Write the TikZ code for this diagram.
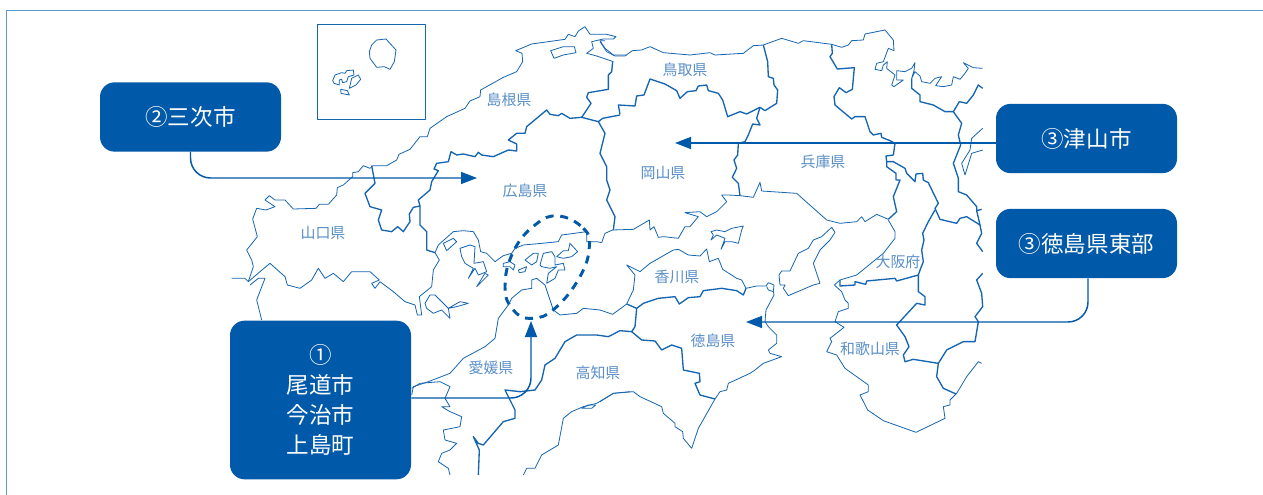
\documentclass[tikz,border=0pt]{standalone}
\usepackage{fontspec}
\setmainfont{Noto Sans CJK JP}
\usetikzlibrary{arrows.meta}
\definecolor{mainblue}{HTML}{0059A9}
\definecolor{mapblue}{HTML}{1565B0}
\definecolor{labelblue}{HTML}{5A8FC8}
\definecolor{framblue}{HTML}{5F9BD0}
\tikzset{
  coast/.style={draw=mapblue,line width=0.6pt,line join=round},
  border/.style={draw=mapblue,line width=1pt,line join=round},
  callout/.style={fill=mainblue,text=white,rounded corners=11pt,minimum width=135.75pt,inner sep=0pt,align=center,font=\fontsize{16.9}{22.5}\selectfont},
  preflabel/.style={text=labelblue,inner sep=0pt,font=\fontsize{11.2}{13}\selectfont},
  leader/.style={draw=mainblue,line width=1.1pt,rounded corners=15pt,-{Triangle[length=12pt,width=9pt]}},
  zA/.style={shift={(230,20)},xscale=1/3,yscale=1/3},
  zB/.style={shift={(600,20)},xscale=1/3,yscale=1/3},
  zC/.style={shift={(230,210)},xscale=1/3,yscale=1/3},
  zD/.style={shift={(600,200)},xscale=1/3,yscale=1/3},
}
\begin{document}
\begin{tikzpicture}[x=0.75pt,y=-0.75pt]
\useasboundingbox (0,0) rectangle (1263,495);
\fill[white] (0,0) rectangle (1263,495);
\draw[framblue,line width=1.1pt] (6.5,495) -- (6.5,10.5) -- (1263,10.5);

% --- map, upper left
\begin{scope}[zA]
\draw[coast] (263,14) rectangle (586,298);
\draw[coast] (418,95)--(425,75)--(440,60)--(468,57)--(498,90)--(493,125)--(480,148)--(463,140)--(440,142)--(420,115)--cycle;
\draw[coast] (308,182)--(315,165)--(335,158)--(345,160)--(350,152)--(370,150)--(372,165)--(355,170)--(350,185)--(338,188)--(335,178)--(328,180)--(328,195)--(312,190)--cycle;
\draw[coast] (358,205)--(365,175)--(385,165)--(392,178)--(378,195)--cycle;
\draw[coast] (332,208)--(352,212)--(358,225)--(333,220)--cycle;
\draw[coast] (962,92)--(1000,80)--(1033,80)--(1038,98)--(1000,105)--(972,115)--cycle;
% north coast Yamaguchi - Shimane
\draw[coast] (65,720)--(50,690)--(82,650)--(68,597)--(80,565)--(108,570)--(135,560)--(105,540)--(118,527)--(135,540)--(165,540)--(190,567)--(258,565)--(268,553)--(295,553)--(320,525)--(322,503)--(340,495)--(368,470)--(368,458)--(385,455)--(400,437)--(420,445)--(428,437)--(470,437)--(500,420)--(507,403)--(540,388)--(570,350)--(592,350)--(600,325)--(650,290)--(705,265)--(720,243)--(750,230)--(752,210)--(820,172)--(860,155)--(878,125)--(876,100)--(857,92)--(905,72)--(1005,58)--(1015,43)--(1035,50)--(1045,33)--(1065,20)--(1080,43)--(1130,43)--(1158,50)--(1150,57)--(1120,57)--(1085,65)--(1090,85)--(1070,100)--(1100,108)--(1150,125);
\draw[coast] (1125,62)--(1110,62)--(1125,85)--(1150,105)--(1190,105);
% Shimane-Tottori
\draw[border] (1148,125)--(1145,155)--(1135,165)--(1135,208)--(1075,218)--(1070,232)--(1083,250)--(1055,292);
% Shimane-Hiroshima
\draw[border] (1105,305)--(1055,292)--(1020,295)--(995,280)--(985,287)--(960,283)--(950,270)--(890,320)--(885,340)--(860,340)--(835,360)--(860,372)--(860,393)--(835,390)--(790,410)--(755,405)--(745,397)--(735,410)--(700,402)--(680,405)--(663,395)--(655,425)--(620,430)--(612,447)--(625,452)--(605,485)--(600,510)--(565,540)--(570,558)--(550,562)--(538,582)--(540,605)--(520,635)--(503,620)--(485,635)--(455,630)--(445,600)--(455,570)--(420,560)--(405,520)--(435,490)--(425,437);
% Hiroshima-Okayama
\draw[border] (1105,305)--(1125,340)--(1110,400)--(1130,440)--(1130,480)--(1140,510)--(1130,540)--(1155,590)--(1150,630);
\draw[border] (1105,305)--(1118,295)--(1170,285);
\end{scope}

% --- map, upper right
\begin{scope}[zB]
\draw[coast] (0,65)--(20,95)--(45,108)--(75,108)--(97,92)--(125,90)--(150,80)--(190,98)--(270,105)--(330,98)--(345,105)--(430,100)--(460,77)--(490,75)--(545,55)--(595,70)--(610,62)--(695,73)--(725,82)--(745,75)--(755,62)--(790,60)--(795,42)--(855,30)--(880,60)--(882,92)--(865,85)--(850,125)--(830,130)--(825,148)--(845,152)--(850,135)--(862,125)--(860,145)--(885,165)--(875,195)--(882,200)--(910,180)--(890,180)--(890,152)--(915,155)--(935,145)--(945,128)--(942,152)--(935,175)--(945,155)--(960,168)--(965,185)--(990,190)--(1005,175)--(1025,170)--(1007,197)--(1030,200)--(1055,195)--(1060,170)--(1080,178)--(1095,160)--(1105,145)--(1090,128)--(1120,143)--(1148,145);
% Tottori-Hyogo
\draw[border] (490,75)--(503,125)--(505,170)--(520,175)--(522,195)--(533,210)--(530,250)--(495,272)--(480,262);
% Hyogo-Okayama
\draw[border] (480,262)--(470,295)--(480,315)--(458,312)--(445,345)--(435,365)--(415,370)--(413,405)--(402,420)--(410,445)--(397,472)--(415,490)--(420,527);
% Okayama-Tottori
\draw[border] (60,283)--(55,255)--(105,258)--(110,228)--(132,225)--(150,177)--(195,192)--(230,212)--(240,235)--(262,215)--(288,212)--(295,198)--(320,195)--(325,212)--(355,220)--(368,240)--(383,290)--(420,275)--(440,282)--(480,262);
% Hyogo east
\draw[border] (695,73)--(697,100)--(690,110)--(712,147)--(763,143)--(757,208)--(738,218)--(718,203)--(702,230)--(705,255)--(755,297)--(765,290)--(795,290)--(810,335)--(820,345)--(843,340)--(845,352)--(870,362)--(885,370)--(880,405)--(858,408)--(860,425)--(880,425)--(915,445)--(920,460)--(945,485)--(948,462)--(968,460)--(970,480)--(985,488)--(1015,550)--(1005,565)--(1020,598)--(1070,610)--(1080,595)--(1100,590)--(1140,615);
\draw[border] (1060,275)--(1085,310)--(1075,345)--(1082,375)--(1060,430)--(1075,475)--(1075,515)--(1100,525)--(1130,560)--(1130,572)--(1145,568);
\draw[border] (1130,572)--(1140,615);
\draw[border] (935,175)--(935,205)--(960,225)--(960,245)--(1000,255)--(1035,275)--(1060,275)--(1078,245)--(1100,250)--(1120,225)--(1135,195)--(1148,205);
\draw[coast] (1148,325)--(1115,355)--(1110,390)--(1085,430)--(1095,465)--(1115,400)--(1148,390);
% Seto coast Okayama - Hyogo - Osaka
\draw[coast] (5,668)--(15,640)--(38,630)--(100,628)--(148,600)--(150,630)--(162,620)--(175,652)--(190,650)--(235,655)--(255,620)--(270,620)--(295,590)--(255,578)--(300,575)--(320,590)--(350,575)--(380,545)--(365,525)--(385,525)--(420,527)--(460,532)--(480,487)--(485,513)--(590,520)--(680,600)--(720,610)--(770,605)--(785,590)--(795,605)--(830,583)--(865,598);
\draw[border] (865,598)--(890,575)--(880,530)--(900,480)--(888,480)--(888,460)--(860,440)--(860,425);
\end{scope}

% --- map, lower left
\begin{scope}[zC]
% Yamaguchi west
\draw[coast] (65,150)--(70,170)--(55,215)--(45,205)--(5,205);
\draw[coast] (55,215)--(90,185)--(120,160)--(165,200)--(172,225)--(210,235)--(245,210)--(265,175)--(285,205)--(310,190)--(340,215)--(365,185)--(420,185)--(448,210)--(425,220)--(435,235)--(450,215)--(490,245)--(525,275)--(555,285)--(562,315)--(575,315)--(568,260)--(605,230)--(610,180)--(628,150)--(615,128);
\draw[coast] (60,225)--(85,205)--(105,205)--(80,270)--(95,330);
\draw[coast] (600,255)--(585,280)--(590,295)--(610,310)--(635,300)--(660,325)--(655,295)--(680,290)--(715,280)--(690,275)--(655,295)--(615,255)--cycle;
% Hiroshima-Yamaguchi
\draw[border] (570,-12)--(570,45)--(590,65)--(590,120)--(615,128);
% Hiroshima coast
\draw[coast] (615,128)--(625,105)--(670,65)--(700,62)--(730,65)--(745,90)--(752,125)--(770,130)--(795,155)--(820,137)--(845,130)--(855,115)--(880,105)--(935,100)--(985,95)--(995,75)--(1070,65)--(1070,95)--(1100,95)--(1115,98);
\draw[coast] (640,100)--(670,85)--(680,95)--(650,122)--cycle;
\draw[coast] (690,115)--(720,105)--(735,110)--(732,160)--(760,155)--(770,185)--(745,195)--(735,175)--(715,205)--(730,175)--(705,160)--(695,140)--cycle;
\draw[coast] (740,230)--(765,190)--(775,195)--cycle;
\draw[coast] (820,160)--(840,155)--(855,165)--(850,180)--(840,170)--(820,170)--cycle;
\draw[coast] (865,180)--(890,170)--(885,185)--(868,188)--cycle;
\draw[coast] (885,150)--(910,130)--(925,130)--(920,155)--(905,165)--cycle;
\draw[coast] (930,165)--(940,130)--(965,125)--(975,140)--(975,165)--(1000,160)--(1005,180)--(985,180)--(975,205)--(950,220)--(955,190)--(980,170)--(960,175)--(935,170)--cycle;
\draw[coast] (980,140)--(1000,122)--(1015,122)--(1020,100)--(1043,125)--(1025,140)--(1000,145)--cycle;
% Ehime north coast, Kagawa-Ehime
\draw[coast] (1110,300)--(1060,295)--(1040,310)--(990,315)--(970,300)--(945,225)--(920,205)--(905,210)--(905,235)--(875,240)--(845,265)--(835,285)--(805,325)--(795,385)--(765,410)--(700,445)--(660,490)--(595,515)--(550,530)--(545,555);
\draw[coast] (545,535)--(570,520)--(630,515)--(660,530)--(645,565)--(660,590)--(635,590)--(660,605)--(695,620)--(690,650)--(640,660)--(645,690)--(680,700)--(660,720)--(635,730)--(625,755)--(655,775)--(660,795);
% Ehime-Kochi
\draw[border] (1205,365)--(1170,362)--(1135,380)--(1100,375)--(1040,375)--(1005,395)--(975,445)--(945,465)--(935,510)--(915,540)--(870,545)--(825,540)--(855,600)--(855,625)--(820,635)--(790,670)--(760,705)--(745,700)--(730,680)--(748,720)--(745,795);
% Kochi coast
\draw[coast] (880,795)--(890,775)--(915,775)--(935,735)--(985,705)--(1000,625)--(1025,605)--(1060,590)--(1100,580)--(1150,550)--(1200,545);
\draw[coast] (1055,595)--(1075,585)--(1097,585)--(1085,595)--cycle;
% dashed ring
\draw[mainblue,line width=2.2pt,dash pattern=on 6pt off 5pt,rounded corners=0pt]
  plot[smooth cycle,tension=0.75] coordinates {(985,18)(1060,55)(1078,110)(1050,200)(975,295)(905,325)(850,300)(825,230)(850,125)(915,45)};
\end{scope}

% --- map, lower right
\begin{scope}[zD]
\draw[coast] (695,82)--(705,97)--(690,120)--(660,150)--(640,190)--(660,250)--(640,255)--(565,287)--(550,265)--(555,255)--(540,255)--(537,225)--(545,213)--(570,213)--(595,160)--(625,145)--(640,120)--(665,110)--cycle;
\draw[coast] (333,95)--(350,90)--(375,95)--(395,85)--(430,78)--(425,90)--(415,130)--(395,125)--(375,125)--(363,148)--(375,115)--(350,105)--(333,120)--(340,105)--cycle;
% Kagawa
\draw[coast] (80,312)--(100,270)--(105,225)--(80,195)--(120,215)--(150,190)--(220,150)--(235,148)--(265,165)--(300,168)--(320,147)--(328,185)--(355,175)--(368,208)--(410,235)--(425,240)--(438,265)--(470,258)--(498,258)--(505,248)--(522,255)--(520,275)--(505,270)--(500,260);
\draw[coast] (80,312)--(38,343)--(0,330);
\draw[border] (80,312)--(110,325)--(130,310)--(175,295)--(225,290)--(238,312)--(265,293)--(300,290)--(310,272)--(365,265)--(410,272)--(430,285)--(438,265);
% Tokushima
\draw[coast] (520,275)--(522,285)--(498,330)--(495,365)--(505,380)--(530,405)--(530,430)--(505,450)--(510,460)--(545,470)--(490,490)--(465,510)--(450,520)--(385,550)--(380,570)--(360,575)--(345,597);
\draw[border] (110,325)--(105,380)--(95,395)--(125,420)--(165,423)--(185,450)--(215,435)--(245,445)--(250,510)--(298,520)--(300,545)--(285,550)--(300,585)--(345,597);
% Kochi coast east
\draw[coast] (0,605)--(40,580)--(100,575)--(120,590)--(185,620)--(190,640)--(225,670)--(225,680)--(248,695)--(250,715)--(275,745)--(295,685)--(345,597);
% Osaka bay - Wakayama
\draw[coast] (865,60)--(885,95)--(885,115)--(850,160)--(770,225)--(720,240)--(703,255)--(725,275)--(735,300)--(745,310)--(745,325)--(715,335)--(705,365)--(732,382)--(690,415)--(695,425)--(680,455)--(710,465)--(735,505)--(805,555)--(805,575)--(780,585)--(803,630)--(850,662)--(948,697)--(1035,655)--(1030,620)--(1050,615)--(1050,600)--(1070,580)--(1100,530)--(1135,485)--(1145,490);
\draw[border] (720,240)--(720,258)--(765,255)--(765,245)--(797,253)--(800,243)--(885,235)--(890,243)--(955,225)--(955,275)--(975,290)--(975,315)--(950,310)--(890,375)--(915,410)--(927,440)--(910,465)--(915,485)--(940,478)--(1015,490)--(1010,530)--(1030,565)--(1068,582);
\draw[border] (1005,30)--(985,65)--(968,100)--(972,120)--(965,150)--(970,185)--(962,205)--(955,225);
\draw[border] (1140,75)--(1145,100)--(1130,130)--(1148,155);
\draw[border] (1148,220)--(1130,240)--(1145,280)--(1148,320)--(1125,350)--(1135,365)--(1125,425)--(1090,425)--(1040,450)--(1015,490);
\end{scope}

% --- prefecture labels
\node[preflabel] (shimane) at (509,100) {島根県};
\node[preflabel] (tottori) at (685,70) {鳥取県};
\node[preflabel] (hiroshima) at (525,191) {広島県};
\node[preflabel] (okayama) at (663,173) {岡山県};
\node[preflabel] (hyogo) at (823,162) {兵庫県};
\node[preflabel] (yamaguchi) at (323,233) {山口県};
\node[preflabel] (kagawa) at (677,277) {香川県};
\node[preflabel] (tokushima) at (713,341) {徳島県};
\node[preflabel] (ehime) at (491,368) {愛媛県};
\node[preflabel] (kochi) at (598,373) {高知県};
\node[preflabel] (osaka) at (898,262) {大阪府};
\node[preflabel] (wakayama) at (870,349) {和歌山県};

% --- callouts
\node[callout,minimum height=52pt] (miyoshi) at (190.5,117) {②三次市};
\node[callout,minimum height=52pt] (tsuyama) at (1086.5,138.5) {③津山市};
\node[callout,minimum height=52pt] (tokubu) at (1086.5,243.5) {③徳島県東部};
\node[callout,minimum height=119pt] (ono) at (320.5,400) {①\\尾道市\\今治市\\上島町};

% --- leaders
\coordinate (tipA) at (477,178);
\coordinate (tipB) at (675,143);
\coordinate (tipC) at (746,322);
\coordinate (tipD) at (531,321);
\draw[leader] (miyoshi.south) |- (tipA);
\draw[leader] (tsuyama.west |- tipB) -- (tipB);
\draw[leader] (tokubu.south) ++(1.5,0) |- (tipC);
\draw[leader] (ono.east |- 0,398) -| (tipD);
\end{tikzpicture}
\end{document}
